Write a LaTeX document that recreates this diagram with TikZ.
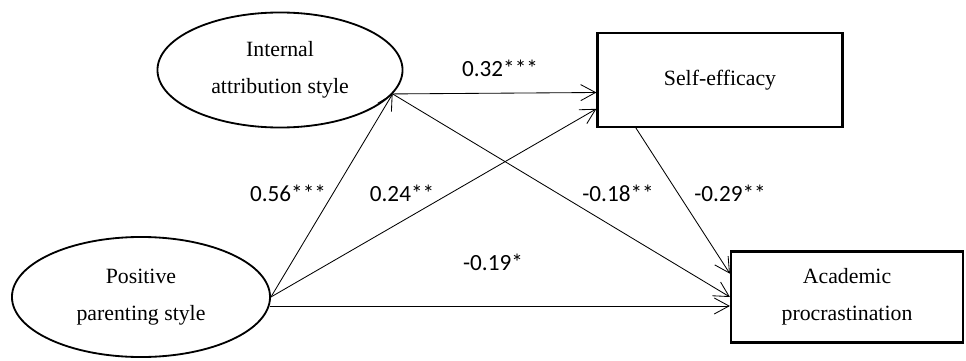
\documentclass[tikz,border=0pt]{standalone}
\usepackage{fontspec}
\setmainfont{Liberation Serif}
\newfontfamily\coeffont{Carlito}
\usetikzlibrary{arrows.meta,calc,shapes.geometric}

\begin{document}
\begin{tikzpicture}[x=0.025cm,y=-0.025cm,
    latent/.style={draw,ellipse,line width=1.3pt,align=center,
      font=\fontsize{15.5}{26}\selectfont},
    observed/.style={draw,rectangle,line width=1.5pt,align=center,
      font=\fontsize{15.5}{26}\selectfont},
    effect/.style={-{Straight Barb[length=3.7mm,width=4mm]},line width=0.6pt},
    coef/.style={font=\coeffont\fontsize{16.5}{18}\selectfont}]
  \useasboundingbox (0,0) rectangle (966,361);
  % variables
  \node[latent,minimum width=6.125cm,minimum height=2.875cm] (ias) at (280,70)
        {Internal\\attribution style};
  \node[latent,minimum width=6.45cm,minimum height=3cm] (pps) at (141,297)
        {Positive\\parenting style};
  \node[observed,minimum width=6.125cm,minimum height=2.35cm] (se) at (720,80)
        {Self-efficacy};
  \node[observed,minimum width=5.8cm,minimum height=2.275cm] (ap) at (847,297)
        {Academic\\procrastination};
  % paths
  \draw[effect] (ias.-12) -- ($(se.north west)!0.63!(se.south west)$);
  \draw[effect] (pps.east) -- (ias.-12);
  \draw[effect] (pps.east) -- ($(se.north west)!0.8!(se.south west)$);
  \draw[effect] (ias.-12) -- (ap.west);
  \draw[effect] ($(se.south west)!0.16!(se.south east)$)
        -- ($(ap.north west)!0.25!(ap.south west)$);
  \draw[effect] (pps.-4) -- (pps.-4 -| ap.west);
  % coefficients
  \node[coef] (c1) at (500,68) {0.32***};
  \node[coef] (c2) at (288,193) {0.56***};
  \node[coef] (c3) at (402,193) {0.24**};
  \node[coef] (c4) at (618,193) {-0.18**};
  \node[coef] (c5) at (730,193) {-0.29**};
  \node[coef] (c6) at (493,262) {-0.19*};
\end{tikzpicture}
\end{document}
